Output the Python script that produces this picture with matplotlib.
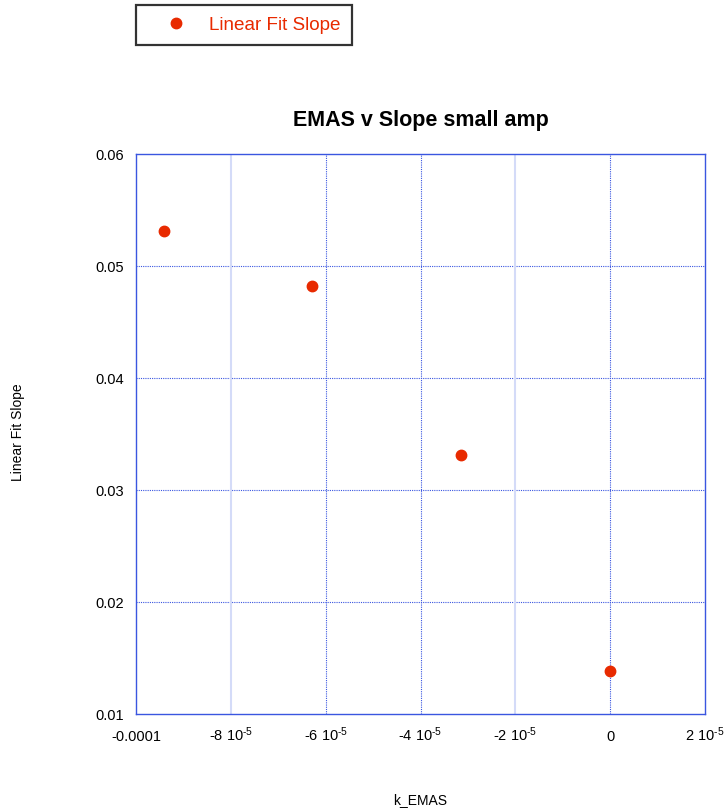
import matplotlib.pyplot as plt

plt.rcParams['font.family'] = ['Liberation Sans', 'DejaVu Sans']
plt.rcParams['mathtext.fontset'] = 'custom'
plt.rcParams['mathtext.rm'] = 'Liberation Sans'
plt.rcParams['mathtext.it'] = 'Liberation Sans'
plt.rcParams['mathtext.default'] = 'regular'

# k_EMAS values and fitted slopes
k_emas = [-9.42e-5, -6.28e-5, -3.14e-5, 0.0]
slope = [0.0531, 0.0482, 0.0331, 0.0138]

x_ticks = [-1e-4, -8e-5, -6e-5, -4e-5, -2e-5, 0, 2e-5]
x_labels = ['-0.0001', r'-8 10$^{\text{-5}}$', r'-6 10$^{\text{-5}}$', r'-4 10$^{\text{-5}}$',
            r'-2 10$^{\text{-5}}$', '0', r'2 10$^{\text{-5}}$']
y_ticks = [0.01, 0.02, 0.03, 0.04, 0.05, 0.06]
y_labels = ['0.01', '0.02', '0.03', '0.04', '0.05', '0.06']

blue = '#3a56e0'
red = '#e82a00'

fig = plt.figure(figsize=(7.25, 8.1), dpi=100)
ax = fig.add_axes([136 / 725, 1 - 714 / 810, 569 / 725, 560 / 810])

ax.plot(k_emas, slope, 'o', color=red, markersize=7.5, label='Linear Fit Slope', zorder=3)

ax.set_xlim(-1e-4, 2e-5)
ax.set_ylim(0.01, 0.06)
ax.set_xticks(x_ticks)
ax.set_xticklabels(x_labels, fontsize=10.5, va='baseline')
ax.set_yticks(y_ticks)
ax.set_yticklabels(y_labels, fontsize=10.5)
ax.tick_params(axis='y', length=0, pad=9)
ax.tick_params(axis='x', length=0, pad=19.5)

# horizontal grid
for y in y_ticks[1:-1]:
    ax.axhline(y, color=blue, lw=0.8, ls=(0, (1, 1)), zorder=1)
# vertical grid: dotted at some ticks, faint solid at others
for x in [-6e-5, -4e-5, 0]:
    ax.axvline(x, color=blue, lw=0.8, ls=(0, (1, 1)), zorder=1)
for x in [-8e-5, -2e-5]:
    ax.axvline(x, color='#d4dbf8', lw=1.5, zorder=1)

for s in ax.spines.values():
    s.set_color(blue)
    s.set_linewidth(1.0)

ax.set_title('EMAS v Slope small amp', fontsize=15.5, fontweight='bold', pad=20)
fig.text(420 / 725, 1 - 800 / 810, 'k_EMAS', fontsize=10, ha='center', va='center')
fig.text(18 / 725, 1 - 432 / 810, 'Linear Fit Slope', fontsize=10, ha='center',
         va='center', rotation=90)

leg = fig.legend(loc='upper left', bbox_to_anchor=(136 / 725, 1 - 5 / 810),
                 fontsize=13.6, frameon=True, fancybox=False, labelcolor=red,
                 borderpad=0.6, handletextpad=0.23, borderaxespad=0,
                 handlelength=3.04, markerscale=1.0)
leg.get_frame().set_edgecolor('black')
leg.get_frame().set_linewidth(1.6)

fig.savefig('out.png', dpi=100)
